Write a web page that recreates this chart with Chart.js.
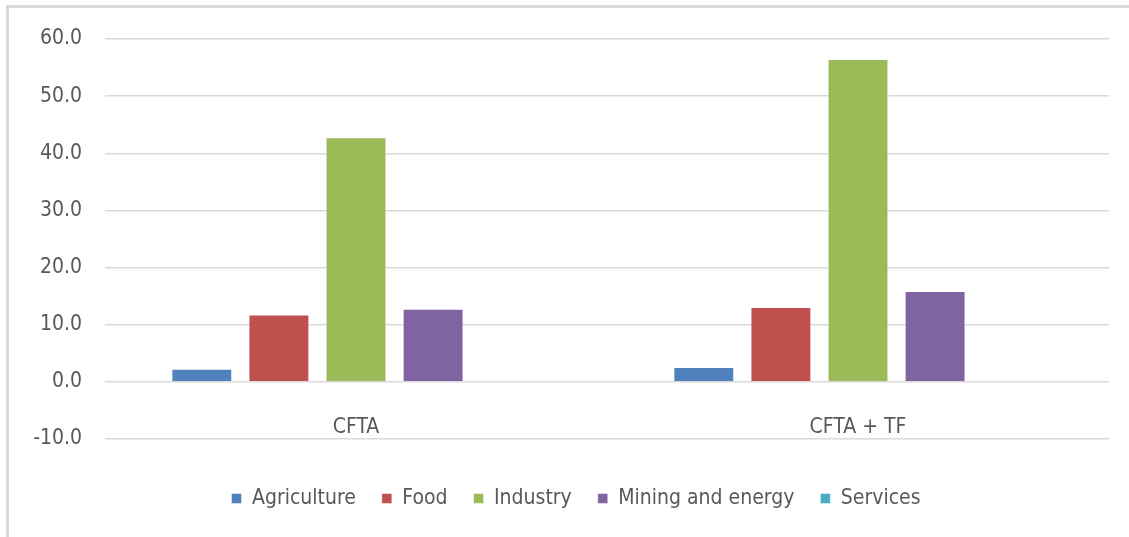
<!DOCTYPE html>
<html>
<head>
<meta charset="utf-8">
<script src="https://cdn.jsdelivr.net/npm/chart.js@4"></script>
<style>
  html, body { margin: 0; padding: 0; background: #fff; }
  #frame {
    position: absolute; left: 6px; top: 5px; width: 1200px; height: 600px;
    border-left: 3px solid #d9d9d9; border-top: 3px solid #d9d9d9;
  }
  #wrap { position: absolute; left: 0; top: 0; width: 1129px; height: 537px; }
</style>
</head>
<body>
<div id="frame"></div>
<div id="wrap"><canvas id="c"></canvas></div>
<script>
// Sector results under two scenarios
const categories = ['CFTA', 'CFTA + TF'];
const seriesNames = ['Agriculture', 'Food', 'Industry', 'Mining and energy', 'Services'];
const agriculture = [2.3, 2.6];
const food = [11.8, 13.1];
const industry = [42.8, 56.5];
const mining = [12.8, 15.9];
const services = [0.0, 0.0];
const colors = ['#4F81BD', '#C0504D', '#9BBB59', '#8064A2', '#4BACC6'];

const FONT = "'Liberation Sans Narrow', 'DejaVu Sans Condensed', sans-serif";
const TEXT = '#595959';
const values = [agriculture, food, industry, mining, services];

// category names sit just above the bottom gridline, like the Excel original
const categoryLabels = {
  id: 'categoryLabels',
  afterDraw(chart) {
    const { ctx, chartArea } = chart;
    const x = chart.scales.x;
    ctx.save();
    ctx.font = '21px ' + FONT;
    ctx.fillStyle = TEXT;
    ctx.textAlign = 'center';
    ctx.textBaseline = 'middle';
    categories.forEach((c, i) => {
      ctx.fillText(c, x.getPixelForTick(i), chartArea.bottom - 11);
    });
    ctx.restore();
  }
};

// the legend in the original is centred a bit right of the canvas middle
const legendShift = {
  id: 'legendShift',
  afterLayout(chart) {
    chart.legend.left += 43;
  }
};

const chart = new Chart(document.getElementById('c'), {
  type: 'bar',
  data: {
    labels: categories,
    datasets: seriesNames.map((name, i) => ({
      label: name,
      data: values[i],
      backgroundColor: colors[i],
      borderColor: 'rgba(255,255,255,0.45)',
      borderWidth: 1,
      categoryPercentage: 0.768,
      barPercentage: 0.79
    }))
  },
  options: {
    responsive: true,
    maintainAspectRatio: false,
    animation: false,
    layout: { padding: { left: 0, right: 20, top: 39, bottom: 18 } },
    plugins: {
      legend: {
        position: 'bottom',
        labels: {
          boxWidth: 10,
          boxHeight: 10,
          padding: 26,
          color: TEXT,
          font: { family: FONT, size: 21 }
        }
      },
      tooltip: { enabled: false }
    },
    scales: {
      y: {
        min: -10,
        max: 60,
        ticks: {
          stepSize: 10,
          padding: 23,
          color: TEXT,
          font: { family: FONT, size: 21 },
          callback: v => v.toFixed(1)
        },
        grid: { color: '#d9d9d9', lineWidth: 1.5, drawTicks: false },
        border: { display: false },
        afterFit: s => { s.width = 105; }
      },
      x: {
        ticks: { display: false },
        grid: { display: false, drawTicks: false },
        border: { display: false },
        afterFit: s => { s.height = 23; }
      }
    }
  },
  plugins: [categoryLabels, legendShift]
});
</script>
</body>
</html>
